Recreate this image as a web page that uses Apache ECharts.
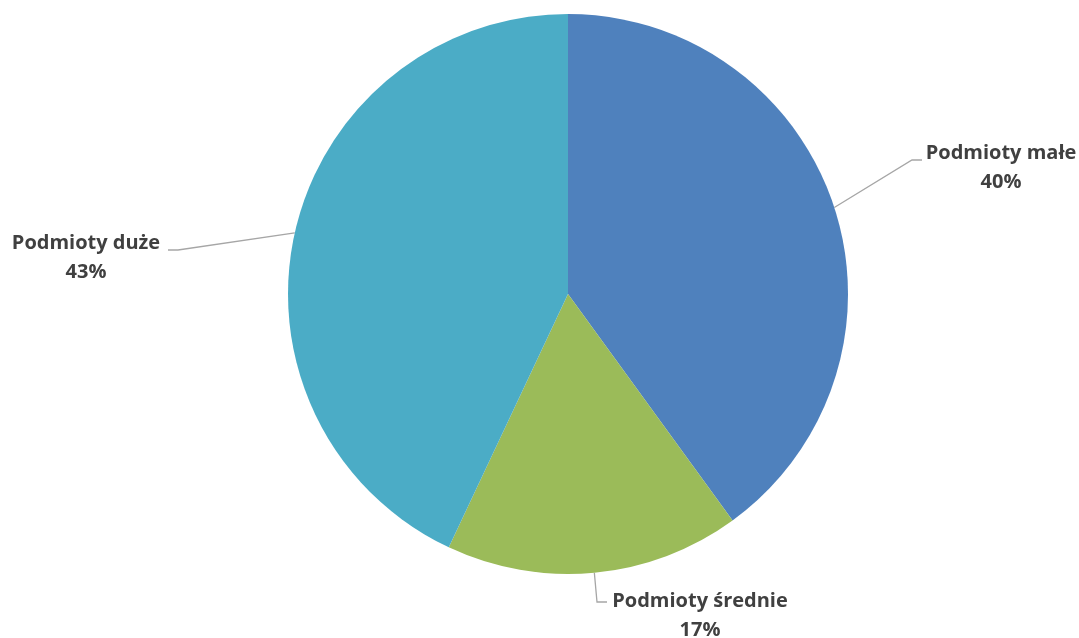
<!DOCTYPE html>
<html>
<head>
<meta charset="utf-8">
<script src="https://cdn.jsdelivr.net/npm/echarts@6/dist/echarts.min.js"></script>
<style>
  html, body { margin: 0; padding: 0; background: #fff; }
  #chart { width: 1079px; height: 638px; }
</style>
</head>
<body>
<div id="chart"></div>
<script>
// udzialy podmiotow
var categories = ['Podmioty małe', 'Podmioty średnie', 'Podmioty duże']
var shares = [40, 17, 43]
var colors = ['#4F81BD', '#9BBB59', '#4BACC6']

// label placement: centre of text block, elbow and end of the leader line
var labelPos = [
  { x: 1001, y: 168, elbow: [912, 160], end: [922, 160] },
  { x: 700, y: 616, elbow: [597, 602], end: [607, 602] },
  { x: 86, y: 258, elbow: [178, 250], end: [168, 250] }
]

var myChart = echarts.init(document.getElementById('chart'))
myChart.setOption({
  animation: false,
  series: [{
    type: 'pie',
    center: [568, 294],
    radius: 280,
    startAngle: 90,
    clockwise: true,
    data: categories.map(function (name, i) {
      return { name: name, value: shares[i], itemStyle: { color: colors[i] } }
    }),
    label: {
      show: true,
      position: 'outside',
      formatter: '{b}\n{d}%',
      color: '#404040',
      fontFamily: 'Open Sans',
      fontWeight: 'bold',
      fontSize: 20,
      lineHeight: 29,
      align: 'center'
    },
    labelLine: {
      show: true,
      length: 40,
      length2: 10,
      lineStyle: { color: '#A6A6A6', width: 1.3 }
    },
    labelLayout: function (params) {
      var p = labelPos[params.dataIndex]
      var start = params.labelLinePoints ? params.labelLinePoints[0] : p.elbow
      return {
        x: p.x,
        y: p.y,
        align: 'center',
        verticalAlign: 'middle',
        labelLinePoints: [start, p.elbow, p.end]
      }
    }
  }]
})
</script>
</body>
</html>
